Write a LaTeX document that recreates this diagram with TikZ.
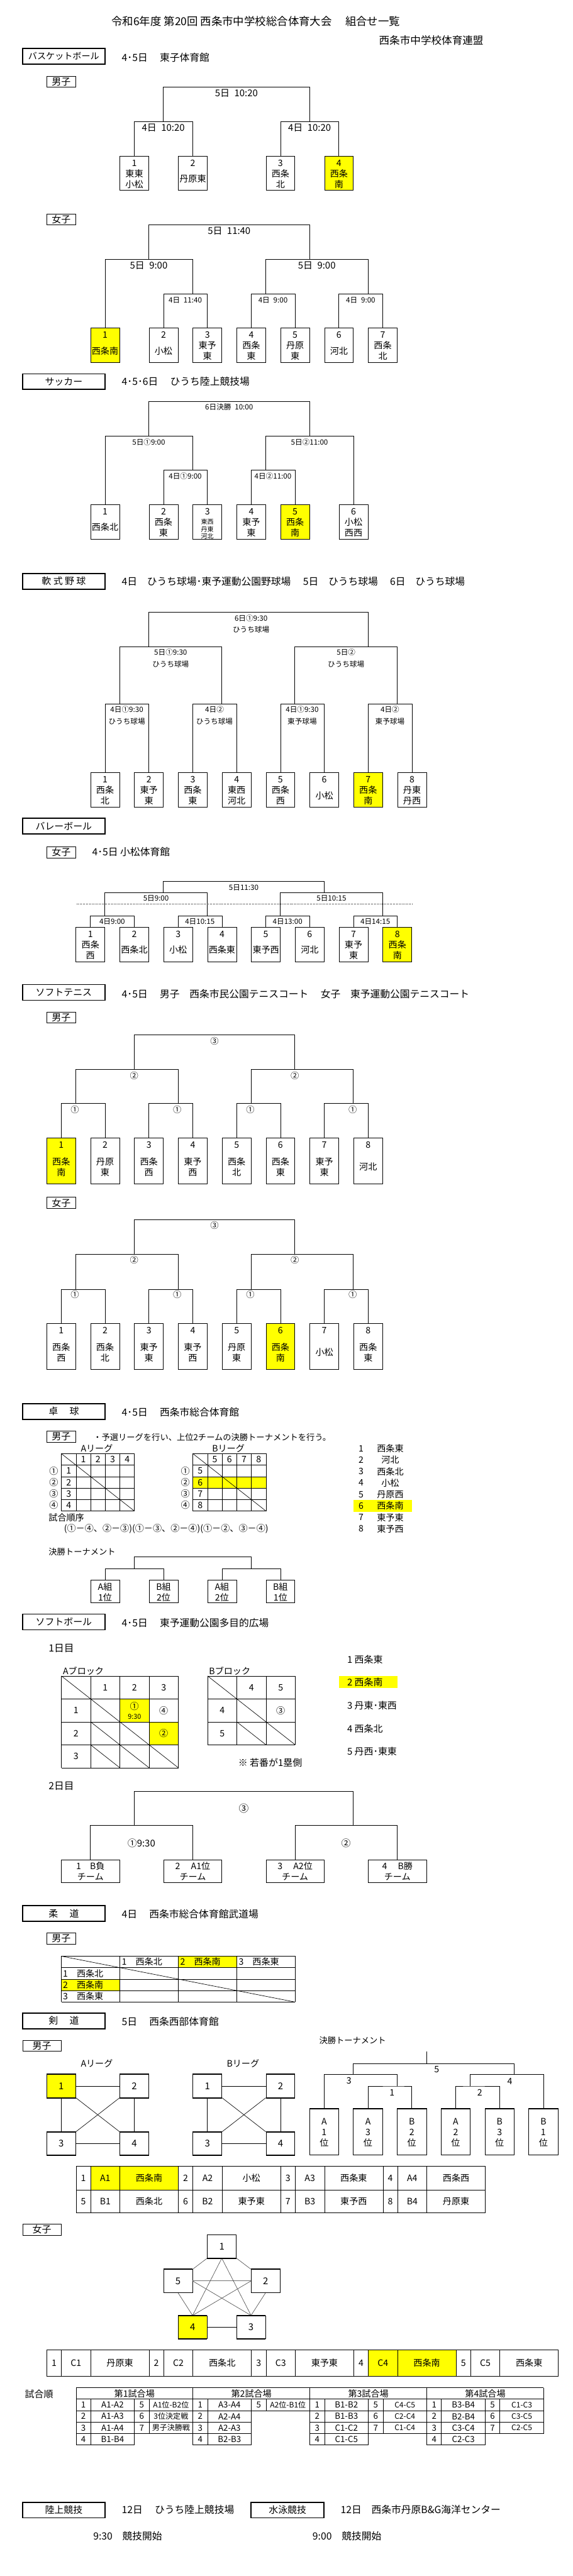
\documentclass[tikz,border=0pt]{standalone}
\usepackage{fontspec}
\setmainfont{Noto Sans CJK JP}
\newlength\xu
\setlength\xu{0.70026pt}
\newcommand\fz[2]{\fontsize{#1}{#2}\selectfont}
\newcommand\tm[8][5pt]{\node[tmb,fill=#7,minimum width=#5*0.70026pt,minimum height=#6pt,anchor=north west] (#2) at (#3,#4) {\parbox[c][#6pt][t]{#5\xu}{\centering\fz{17}{20.5}\vspace*{#1}\strut #8}};}
\newcommand\srow[7]{\node[st] (#1a) at (228+#2,#3) {#4};\node[st] (#1b) at (308+#2,#3) {#5};\node[st] (#1c) at (388+#2,#3) {#6};\node[st,font=\fz{14.5}{16}] (#1d) at (468+#2,#3) {#7};}
\newcommand\shalf[4]{\node[st] (#1a) at (228+#2,#3) {#4};}
\newcommand\shalfb[4]{\node[st] (#1b) at (308+#2,#3) {#4};}
\definecolor{hl}{RGB}{255,255,0}
\tikzset{
 tmb/.style={draw,line width=0.9pt,inner sep=0pt,outer sep=0pt},
 sec/.style={draw,line width=2.2pt,minimum width=157.6pt,minimum height=30pt,inner sep=0pt,font=\fz{18}{20}},
 lab/.style={draw,line width=0.8pt,minimum width=55.3pt,minimum height=21pt,inner sep=0pt,font=\fz{18}{20}},
 hd/.style={anchor=west,inner sep=0pt,font=\fz{19}{22}},
 bl/.style={line width=0.9pt},
 gl/.style={line width=0.8pt},
 bt/.style={inner sep=0pt,font=\fz{18}{20}},
 bs/.style={inner sep=0pt,font=\fz{14}{16}},
 b2/.style={inner sep=0pt,align=center,font=\fz{14}{22}},
 tt/.style={inner sep=0pt,font=\fz{17}{20}},
 st/.style={inner sep=0pt,font=\fz{16}{18}},
 kb/.style={draw,line width=0.9pt,minimum width=55.3pt,minimum height=44pt,inner sep=0pt,font=\fz{18}{20}},
 kt/.style={line width=2.2pt},
 pl/.style={line width=0.7pt,black!75},
}
\begin{document}
\begin{tikzpicture}[x=0.70026pt,y=-1pt]
\fill[white] (0,0) rectangle (1568,4937);
\useasboundingbox (0,0) rectangle (1568,4937);

% ===== title
\node[hd,font=\fz{21}{24}] (title) at (305,41) {令和6年度 第20回 西条市中学校総合体育大会　 組合せ一覧};
\node[hd,font=\fz{20}{24}] (org) at (1037,77) {西条市中学校体育連盟};

% ===== basketball boys
\node[sec,font=\fz{17}{20}] (s1) at (174.5,108) {バスケットボール};
\node[hd] (h1) at (333,110) {4･5日　 東子体育館};
\node[lab] (g1) at (167.5,156.5) {男子};
\tm{bb1}{328}{299}{79}{66}{white}{1\\東東\\小松}
\tm{bb2}{488}{299}{79}{66}{white}{2\\[10pt]丹原東}
\tm{bb3}{728}{299}{79}{66}{white}{3\\西条\\北}
\tm{bb4}{888}{299}{79}{66}{hl}{4\\西条\\南}
\coordinate (bbm1) at (447,233);
\coordinate (bbm2) at (847,233);
\coordinate (bbm0) at (647,167);
\draw[bl] (bb1.north) |- (bbm1) -| (bb2.north);
\draw[bl] (bb3.north) |- (bbm2) -| (bb4.north);
\draw[bl] (bbm1) |- (bbm0) -| (bbm2);
\node[bt] (bbl0) at (647,179) {5日\enspace10:20};
\node[bt] (bbl1) at (447,245) {4日\enspace10:20};
\node[bt] (bbl2) at (847,245) {4日\enspace10:20};

% ===== basketball girls
\node[lab] (g2) at (167.5,420.5) {女子};
\tm{gb1}{248}{629}{79}{66}{hl}{1\\[10pt]西条南}
\tm{gb2}{408}{629}{79}{66}{white}{2\\[10pt]小松}
\tm{gb3}{528}{629}{79}{66}{white}{3\\東予\\東}
\tm{gb4}{648}{629}{79}{66}{white}{4\\西条\\東}
\tm{gb5}{768}{629}{79}{66}{white}{5\\丹原\\東}
\tm{gb6}{888}{629}{79}{66}{white}{6\\[10pt]河北}
\tm{gb7}{1008}{629}{79}{66}{white}{7\\西条\\北}
\coordinate (gmA) at (527,563);
\coordinate (gmB) at (727,563);
\coordinate (gmC) at (1007,563);
\coordinate (gmD) at (407,497);
\coordinate (gmE) at (847,497);
\coordinate (gmF) at (627,431);
\draw[bl] (gb2.north) |- (gmA) -| (gb3.north);
\draw[bl] (gb4.north) |- (gmB) -| (gb5.north);
\draw[bl] (gb6.north) |- (gmC) -| (gb7.north);
\draw[bl] (gb1.north) |- (gmD) -| (gmA);
\draw[bl] (gmB) |- (gmE) -| (gmC);
\draw[bl] (gmD) |- (gmF) -| (gmE);
\node[bt] (gl0) at (627,443) {5日\enspace11:40};
\node[bt] (gl1) at (407,509) {5日\enspace9:00};
\node[bt] (gl2) at (867,509) {5日\enspace9:00};
\node[bs] (gl3) at (507,575) {4日\enspace11:40};
\node[bs] (gl4) at (747,575) {4日\enspace9:00};
\node[bs] (gl5) at (987,575) {4日\enspace9:00};

% ===== soccer
\node[sec] (s2) at (174.5,731.5) {サッカー};
\node[hd] (h2) at (333,731) {4･5･6日　 ひうち陸上競技場};
\tm{sb1}{248}{967}{79}{66}{white}{1\\[10pt]西条北}
\tm{sb2}{408}{967}{79}{66}{white}{2\\西条\\東}
\tm{sb3}{528}{967}{79}{66}{white}{3\par\vspace{1pt}{\fz{12}{14}東西\\丹東\\河北\par}}
\tm{sb4}{648}{967}{79}{66}{white}{4\\東予\\東}
\tm{sb5}{768}{967}{79}{66}{hl}{5\\西条\\南}
\tm{sb6}{928}{967}{79}{66}{white}{6\\小松\\西西}
\coordinate (smA) at (527,901);
\coordinate (smB) at (727,901);
\coordinate (smC) at (407,836);
\coordinate (smD) at (847,836);
\coordinate (smE) at (627,769);
\draw[bl] (sb2.north) |- (smA) -| (sb3.north);
\draw[bl] (sb4.north) |- (smB) -| (sb5.north);
\draw[bl] (sb1.north) |- (smC) -| (smA);
\draw[bl] (smB) |- (smD) -| (sb6.north);
\draw[bl] (smC) |- (smE) -| (smD);
\node[bs] (sl0) at (627,780) {6日決勝\enspace10:00};
\node[bs] (sl1) at (407,847) {5日①9:00};
\node[bs] (sl2) at (847,847) {5日②11:00};
\node[bs] (sl3) at (507,912) {4日①9:00};
\node[bs] (sl4) at (747,912) {4日②11:00};

% ===== baseball
\node[sec] (s3) at (174.5,1114) {軟 式 野 球};
\node[hd] (h3) at (333,1114) {4日　ひうち球場･東予運動公園野球場　 5日　ひうち球場　 6日　ひうち球場};
\tm{yb1}{248}{1481}{79}{66}{white}{1\\西条\\北}
\tm{yb2}{368}{1481}{79}{66}{white}{2\\東予\\東}
\tm{yb3}{488}{1481}{79}{66}{white}{3\\西条\\東}
\tm{yb4}{608}{1481}{79}{66}{white}{4\\東西\\河北}
\tm{yb5}{728}{1481}{79}{66}{white}{5\\西条\\西}
\tm{yb6}{848}{1481}{79}{66}{white}{6\\[10pt]小松}
\tm{yb7}{968}{1481}{79}{66}{hl}{7\\西条\\南}
\tm{yb8}{1088}{1481}{79}{66}{white}{8\\丹東\\丹西}
\coordinate (ymA) at (327,1349);
\coordinate (ymB) at (607,1349);
\coordinate (ymC) at (807,1349);
\coordinate (ymD) at (1087,1349);
\coordinate (ymE) at (407,1239);
\coordinate (ymF) at (1007,1239);
\coordinate (ymG) at (687,1173);
\draw[bl] (yb1.north) |- (ymA) -| (yb2.north);
\draw[bl] (yb3.north) |- (ymB) -| (yb4.north);
\draw[bl] (yb5.north) |- (ymC) -| (yb6.north);
\draw[bl] (yb7.north) |- (ymD) -| (yb8.north);
\draw[bl] (ymA) |- (ymE) -| (ymB);
\draw[bl] (ymC) |- (ymF) -| (ymD);
\draw[bl] (ymE) |- (ymG) -| (ymF);
\node[b2] (yl0) at (687,1196) {6日①9:30\\ひうち球場};
\node[b2] (yl1) at (467,1261.5) {5日①9:30\\ひうち球場};
\node[b2] (yl2) at (947,1261.5) {5日②\\ひうち球場};
\node[b2] (yl3) at (347,1371) {4日①9:30\\ひうち球場};
\node[b2] (yl4) at (587,1371) {4日②\\ひうち球場};
\node[b2] (yl5) at (827,1371) {4日①9:30\\東予球場};
\node[b2] (yl6) at (1067,1371) {4日②\\東予球場};

% ===== volleyball
\node[sec] (s4) at (174.5,1583.5) {バレーボール};
\node[lab] (g4) at (167.5,1633.5) {女子};
\node[hd] (h4) at (252,1633) {4･5日 小松体育館};
\tm{vb1}{208}{1777}{79}{66}{white}{1\\西条\\西}
\tm{vb2}{328}{1777}{79}{66}{white}{2\\[10pt]西条北}
\tm{vb3}{448}{1777}{79}{66}{white}{3\\[10pt]小松}
\tm{vb4}{568}{1777}{79}{66}{white}{4\\[10pt]西条東}
\tm{vb5}{688}{1777}{79}{66}{white}{5\\[10pt]東予西}
\tm{vb6}{808}{1777}{79}{66}{white}{6\\[10pt]河北}
\tm{vb7}{928}{1777}{79}{66}{white}{7\\東予\\東}
\tm{vb8}{1048}{1777}{79}{66}{hl}{8\\西条\\南}
\coordinate (vmA) at (287,1755);
\coordinate (vmB) at (567,1755);
\coordinate (vmC) at (767,1755);
\coordinate (vmD) at (1047,1755);
\coordinate (vmE) at (447,1711);
\coordinate (vmF) at (887,1711);
\coordinate (vmG) at (667,1689);
\draw[bl] (vb1.north) |- (vmA) -| (vb2.north);
\draw[bl] (vb3.north) |- (vmB) -| (vb4.north);
\draw[bl] (vb5.north) |- (vmC) -| (vb6.north);
\draw[bl] (vb7.north) |- (vmD) -| (vb8.north);
\draw[bl] (vmA) |- (vmE) -| (vmB);
\draw[bl] (vmC) |- (vmF) -| (vmD);
\draw[bl] (vmE) |- (vmG) -| (vmF);
\coordinate (vdl) at (210,1733);
\coordinate (vdr) at (1127,1733);
\draw[dotted,line width=1pt] (vdl) -- (vdr);
\node[bs] (vl0) at (667,1701) {5日11:30};
\node[bs] (vl1) at (427,1722) {5日9:00};
\node[bs] (vl2) at (907,1722) {5日10:15};
\node[bs] (vl3) at (307,1766) {4日9:00};
\node[bs] (vl4) at (547,1766) {4日10:15};
\node[bs] (vl5) at (787,1766) {4日13:00};
\node[bs] (vl6) at (1027,1766) {4日14:15};

% ===== soft tennis boys
\node[sec] (s5) at (174.5,1902) {ソフトテニス};
\node[hd] (h5) at (333,1905) {4･5日　 男子　西条市民公園テニスコート　 女子　東予運動公園テニスコート};
\node[lab] (g5) at (167.5,1950) {男子};
\tm{tb1}{128}{2181}{79}{88}{hl}{1\\[12pt]西条\\南}
\tm{tb2}{248}{2181}{79}{88}{white}{2\\[12pt]丹原\\東}
\tm{tb3}{368}{2181}{79}{88}{white}{3\\[12pt]西条\\西}
\tm{tb4}{488}{2181}{79}{88}{white}{4\\[12pt]東予\\西}
\tm{tb5}{608}{2181}{79}{88}{white}{5\\[12pt]西条\\北}
\tm{tb6}{728}{2181}{79}{88}{white}{6\\[12pt]西条\\東}
\tm{tb7}{848}{2181}{79}{88}{white}{7\\[12pt]東予\\東}
\tm{tb8}{968}{2181}{79}{88}{white}{8\\[22pt]河北}
\coordinate (tmA) at (207,2115);
\coordinate (tmB) at (487,2115);
\coordinate (tmC) at (687,2115);
\coordinate (tmD) at (967,2115);
\coordinate (tmE) at (367,2049);
\coordinate (tmF) at (807,2049);
\coordinate (tmG) at (587,1983);
\draw[bl] (tb1.north) |- (tmA) -| (tb2.north);
\draw[bl] (tb3.north) |- (tmB) -| (tb4.north);
\draw[bl] (tb5.north) |- (tmC) -| (tb6.north);
\draw[bl] (tb7.north) |- (tmD) -| (tb8.north);
\draw[bl] (tmA) |- (tmE) -| (tmB);
\draw[bl] (tmC) |- (tmF) -| (tmD);
\draw[bl] (tmE) |- (tmG) -| (tmF);
\node[bs,font=\fz{16}{18}] (tl0) at (587,1995) {③};
\node[bs,font=\fz{16}{18}] (tl1) at (367,2062) {②};
\node[bs,font=\fz{16}{18}] (tl2) at (807,2062) {②};
\node[bs,font=\fz{16}{18}] (tl3) at (205,2127) {①};
\node[bs,font=\fz{16}{18}] (tl4) at (485,2127) {①};
\node[bs,font=\fz{16}{18}] (tl5) at (685,2127) {①};
\node[bs,font=\fz{16}{18}] (tl6) at (965,2127) {①};

% ===== soft tennis girls
\node[lab] (g6) at (167.5,2305) {女子};
\tm{wb1}{128}{2536}{79}{88}{white}{1\\[12pt]西条\\西}
\tm{wb2}{248}{2536}{79}{88}{white}{2\\[12pt]西条\\北}
\tm{wb3}{368}{2536}{79}{88}{white}{3\\[12pt]東予\\東}
\tm{wb4}{488}{2536}{79}{88}{white}{4\\[12pt]東予\\西}
\tm{wb5}{608}{2536}{79}{88}{white}{5\\[12pt]丹原\\東}
\tm{wb6}{728}{2536}{79}{88}{hl}{6\\[12pt]西条\\南}
\tm{wb7}{848}{2536}{79}{88}{white}{7\\[22pt]小松}
\tm{wb8}{968}{2536}{79}{88}{white}{8\\[12pt]西条\\東}
\coordinate (wmA) at (207,2471);
\coordinate (wmB) at (487,2471);
\coordinate (wmC) at (687,2471);
\coordinate (wmD) at (967,2471);
\coordinate (wmE) at (367,2404);
\coordinate (wmF) at (807,2404);
\coordinate (wmG) at (587,2338);
\draw[bl] (wb1.north) |- (wmA) -| (wb2.north);
\draw[bl] (wb3.north) |- (wmB) -| (wb4.north);
\draw[bl] (wb5.north) |- (wmC) -| (wb6.north);
\draw[bl] (wb7.north) |- (wmD) -| (wb8.north);
\draw[bl] (wmA) |- (wmE) -| (wmB);
\draw[bl] (wmC) |- (wmF) -| (wmD);
\draw[bl] (wmE) |- (wmG) -| (wmF);
\node[bs,font=\fz{16}{18}] (wl0) at (587,2349) {③};
\node[bs,font=\fz{16}{18}] (wl1) at (367,2415) {②};
\node[bs,font=\fz{16}{18}] (wl2) at (807,2415) {②};
\node[bs,font=\fz{16}{18}] (wl3) at (205,2481) {①};
\node[bs,font=\fz{16}{18}] (wl4) at (485,2481) {①};
\node[bs,font=\fz{16}{18}] (wl5) at (685,2481) {①};
\node[bs,font=\fz{16}{18}] (wl6) at (965,2481) {①};

% ===== table tennis
\node[sec] (s6) at (174.5,2705) {卓　 球};
\node[hd] (h6) at (333,2706) {4･5日　 西条市総合体育館};
\node[lab] (g7) at (167.5,2753.5) {男子};
\node[hd,font=\fz{16}{18}] (n7) at (255,2755) {・予選リーグを行い、上位2チームの決勝トーナメントを行う。};
\node[tt] (tal) at (265,2776) {Aリーグ};
\node[tt] (tbl) at (625,2776) {Bリーグ};
\fill[hl] (528,2830) rectangle (728,2852);
\foreach \o in {0,360}{
  \foreach \x in {168,208,248,288,328,368} \draw[gl] (\x+\o,2786) -- (\x+\o,2896);
  \foreach \y in {2786,2808,2830,2852,2874,2896} \draw[gl] (168+\o,\y) -- (368+\o,\y);
  \draw[gl] (168+\o,2786) -- (368+\o,2896);
}
\foreach \i in {1,...,4}{
  \node[tt] (tah\i) at (188+40*\i,2797) {\i};
  \node[tt] (tar\i) at (188,2797+22*\i) {\i};
}
\foreach \n [count=\i] in {5,...,8}{
  \node[tt] (tbh\i) at (548+40*\i,2797) {\n};
  \node[tt] (tbr\i) at (548,2797+22*\i) {\n};
}
\foreach \c [count=\i] in {①,②,③,④}{
  \node[tt] (tac\i) at (147,2797+22*\i) {\c};
  \node[tt] (tbc\i) at (507,2797+22*\i) {\c};
}
\fill[hl] (967,2875) rectangle (1127,2897);
\foreach \t [count=\i] in {西条東,河北,西条北,小松,丹原西,西条南,東予東,東予西}{
  \node[tt] (ttn\i) at (988,2754+22*\i) {\i};
  \node[tt] (ttt\i) at (1068,2754+22*\i) {\t};
}
\node[hd,font=\fz{17}{20}] (jun) at (133,2909) {試合順序};
\node[hd,font=\fz{17}{20}] (juno) at (175,2930) {(①－④、②－③)(①－③、②－④)(①－②、③－④)};
\node[hd,font=\fz{16}{18}] (kst) at (133,2974) {決勝トーナメント};
\tm{qb1}{248}{3028}{79}{44}{white}{A組\\1位}
\tm{qb2}{408}{3028}{79}{44}{white}{B組\\2位}
\tm{qb3}{568}{3028}{79}{44}{white}{A組\\2位}
\tm{qb4}{728}{3028}{79}{44}{white}{B組\\1位}
\coordinate (qmA) at (367,3006);
\coordinate (qmB) at (687,3006);
\coordinate (qmC) at (527,2984);
\draw[bl] (qb1.north) |- (qmA) -| (qb2.north);
\draw[bl] (qb3.north) |- (qmB) -| (qb4.north);
\draw[bl] (qmA) |- (qmC) -| (qmB);

% ===== softball
\node[sec] (s7) at (174.5,3108.5) {ソフトボール};
\node[hd] (h7) at (333,3110) {4･5日　 東予運動公園多目的広場};
\node[hd] (d1) at (133,3159) {1日目};
\fill[hl] (928,3212) rectangle (1087,3235);
\node[hd,font=\fz{18}{20}] (sbt1) at (950,3181) {1 西条東};
\node[hd,font=\fz{18}{20}] (sbt2) at (950,3224) {2 西条南};
\node[hd,font=\fz{18}{20}] (sbt3) at (950,3269) {3 丹東･東西};
\node[hd,font=\fz{18}{20}] (sbt4) at (950,3313) {4 西条北};
\node[hd,font=\fz{18}{20}] (sbt5) at (950,3356) {5 丹西･東東};
\node[hd,font=\fz{17}{20}] (abk) at (172,3203) {Aブロック};
\node[hd,font=\fz{17}{20}] (bbk) at (572,3203) {Bブロック};
\fill[hl] (328,3256) rectangle (408,3300);
\fill[hl] (408,3300) rectangle (488,3344);
\foreach \x in {168,248,328,408,488} \draw[gl] (\x,3212) -- (\x,3388);
\foreach \y in {3212,3256,3300,3344,3388} \draw[gl] (168,\y) -- (488,\y);
\draw[gl] (168,3212) -- (248,3256) (248,3256) -- (328,3300) (248,3300) -- (328,3344) (328,3300) -- (408,3344) (248,3344) -- (328,3388) (328,3344) -- (408,3388) (408,3344) -- (488,3388);
\node[tt] (sah1) at (288,3234) {1};
\node[tt] (sah2) at (368,3234) {2};
\node[tt] (sah3) at (448,3234) {3};
\node[tt] (sar1) at (208,3278) {1};
\node[tt] (sar2) at (208,3322) {2};
\node[tt] (sar3) at (208,3366) {3};
\node[tt] (sac1) at (368,3270) {①};
\node[tt,font=\fz{13}{14}] (sac2) at (368,3290) {9:30};
\node[tt] (sac3) at (448,3278) {④};
\node[tt] (sac4) at (448,3322) {②};
\foreach \x in {568,648,728,808} \draw[gl] (\x,3212) -- (\x,3344);
\foreach \y in {3212,3256,3300,3344} \draw[gl] (568,\y) -- (808,\y);
\draw[gl] (568,3212) -- (648,3256) (648,3256) -- (728,3300) (648,3300) -- (728,3344) (728,3300) -- (808,3344);
\node[tt] (sbh1) at (688,3234) {4};
\node[tt] (sbh2) at (768,3234) {5};
\node[tt] (sbr1) at (608,3278) {4};
\node[tt] (sbr2) at (608,3322) {5};
\node[tt] (sbc1) at (768,3278) {③};
\node[hd,font=\fz{18}{20}] (note) at (652,3378) {※ 若番が1塁側};
\node[hd] (d2) at (133,3423) {2日目};
\tm{rb1}{168}{3564}{159}{44}{white}{1　B負\\チーム}
\tm{rb2}{448}{3564}{159}{44}{white}{2　 A1位\\チーム}
\tm{rb3}{728}{3564}{159}{44}{white}{3　 A2位\\チーム}
\tm{rb4}{1008}{3564}{159}{44}{white}{4　 B勝\\チーム}
\coordinate (rmA) at (367,3498);
\coordinate (rmB) at (967,3498);
\coordinate (rmC) at (667,3433);
\draw[bl] (rb1.north) |- (rmA) -| (rb2.north);
\draw[bl] (rb3.north) |- (rmB) -| (rb4.north);
\draw[bl] (rmA) |- (rmC) -| (rmB);
\node[bt,font=\fz{19}{20}] (rl0) at (667,3466) {③};
\node[bt] (rl1) at (387,3532) {①9:30};
\node[bt] (rl2) at (947,3532) {②};

% ===== judo
\node[sec] (s8) at (174.5,3667) {柔　 道};
\node[hd] (h8) at (333,3668) {4日　 西条市総合体育館武道場};
\node[lab] (g8) at (167.5,3715) {男子};
\fill[hl] (488,3749) rectangle (648,3771);
\fill[hl] (168,3793) rectangle (328,3815);
\foreach \x in {168,328,488,648,808} \draw[gl] (\x,3749) -- (\x,3837);
\foreach \y in {3749,3771,3793,3815,3837} \draw[gl] (168,\y) -- (808,\y);
\draw[gl] (168,3749) -- (808,3837);
\foreach \t [count=\i] in {西条北,西条南,西条東}{
  \node[hd,font=\fz{17}{20}] (jh\i) at (173+160*\i,3760) {\i　\t};
  \node[hd,font=\fz{17}{20}] (jr\i) at (172,3760+22*\i) {\i　\t};
}

% ===== kendo
\node[sec] (s9) at (174.5,3873) {剣　 道};
\node[hd] (h9) at (333,3874) {5日　 西条西部体育館};
\node[lab,minimum width=73.5pt] (g9) at (114.5,3921) {男子};
\node[tt,font=\fz{16}{18}] (ktt) at (965,3910) {決勝トーナメント};
\node[tt] (kal) at (265,3955) {Aリーグ};
\node[tt] (kbl) at (665,3955) {Bリーグ};
\node[kb,fill=hl] (ka1) at (167.5,3998) {1};
\node[kb] (ka2) at (367.5,3998) {2};
\node[kb] (ka3) at (167.5,4108) {3};
\node[kb] (ka4) at (367.5,4108) {4};
\node[kb] (kb1) at (567.5,3998) {1};
\node[kb] (kb2) at (767.5,3998) {2};
\node[kb] (kb3) at (567.5,4108) {3};
\node[kb] (kb4) at (767.5,4108) {4};
\foreach \p in {ka,kb}{
  \draw[gl] (\p1) -- (\p2);
  \draw[gl] (\p1) -- (\p3);
  \draw[gl] (\p2) -- (\p4);
  \draw[gl] (\p3) -- (\p4);
  \draw[gl] (\p1.south east) -- (\p4.north west);
  \draw[gl] (\p2.south west) -- (\p3.north east);
}
\tm[17pt]{kt1}{847}{4041}{80}{89}{white}{A\\1\\位}
\tm[17pt]{kt2}{967}{4041}{80}{89}{white}{A\\3\\位}
\tm[17pt]{kt3}{1087}{4041}{80}{89}{white}{B\\2\\位}
\tm[17pt]{kt4}{1207}{4041}{80}{89}{white}{A\\2\\位}
\tm[17pt]{kt5}{1327}{4041}{80}{89}{white}{B\\3\\位}
\tm[17pt]{kt6}{1447}{4041}{80}{89}{white}{B\\1\\位}
\foreach \n in {ka1,ka2,ka3,ka4,kb1,kb2,kb3,kb4,kt1,kt2,kt3,kt4,kt5,kt6}
  \draw[kt] (\n.north west) -- (\n.north east) (\n.south west) -- (\n.south east);
\coordinate (kmA) at (1087,3998);
\coordinate (kmB) at (1287,3998);
\coordinate (kmC) at (967,3976);
\coordinate (kmD) at (1407,3976);
\coordinate (kmE) at (1167,3955);
\coordinate (kroot) at (1167,3932);
\draw[bl] (kt2.north) |- (kmA) -| (kt3.north);
\draw[bl] (kt4.north) |- (kmB) -| (kt5.north);
\draw[bl] (kt1.north) |- (kmC) -| (kmA);
\draw[bl] (kmB) |- (kmD) -| (kt6.north);
\draw[bl] (kmC) |- (kmE) -| (kmD);
\draw[bl] (kmE) -- (kroot);
\node[tt] (kl5) at (1195,3966) {5};
\node[tt] (kl3) at (955,3988) {3};
\node[tt] (kl4) at (1395,3989) {4};
\node[tt] (kl1) at (1073,4011) {1};
\node[tt] (kl2) at (1313,4011) {2};
\fill[hl] (248,4152) rectangle (488,4197);
\foreach \x in {208,248,328,488,528,608,768,808,888,1048,1088,1168,1328} \draw[gl] (\x,4152) -- (\x,4241);
\foreach \y in {4152,4197,4241} \draw[gl] (208,\y) -- (1328,\y);
\foreach \o/\a/\b/\c/\d/\e/\f [count=\i] in {0/1/A1/西条南/5/B1/西条北,280/2/A2/小松/6/B2/東予東,560/3/A3/西条東/7/B3/東予西,840/4/A4/西条西/8/B4/丹原東}{
  \node[tt] (kr\i a) at (228+\o,4174.5) {\a};
  \node[tt] (kr\i b) at (288+\o,4174.5) {\b};
  \node[tt] (kr\i c) at (408+\o,4174.5) {\c};
  \node[tt] (kr\i d) at (228+\o,4219) {\d};
  \node[tt] (kr\i e) at (288+\o,4219) {\e};
  \node[tt] (kr\i f) at (408+\o,4219) {\f};
}
% kendo girls
\node[lab,minimum width=73.5pt] (g10) at (114.5,4273) {女子};
\node[kb] (p1) at (607,4305.5) {1};
\node[kb] (p5) at (487,4371.5) {5};
\node[kb] (p2) at (727,4371.5) {2};
\node[kb,fill=hl] (p4) at (527,4460) {4};
\node[kb] (p3) at (687,4460) {3};
\draw[pl] (p1.south west) -- (p5.north east);
\draw[pl] (p1.south east) -- (p2.north west);
\draw[pl,black!55,line width=1.2pt] (p5.east) -- (p2.west);
\draw[pl] (p1.south) -- (p4.north);
\draw[pl] (p1.south) -- (p3.north);
\draw[pl] (p5.south) -- (p4.north);
\draw[pl] (p2.south) -- (p3.north);
\draw[pl] (p5.east) -- (p3.north);
\draw[pl] (p2.west) -- (p4.north);
\draw[gl] (p4.east) -- (p3.west);
\foreach \n in {p1,p2,p3,p4,p5}
  \draw[kt] (\n.north west) -- (\n.north east) (\n.south west) -- (\n.south east);
\fill[hl] (1008,4504) rectangle (1248,4554);
\foreach \x in {128,168,248,408,448,528,688,728,808,968,1008,1088,1248,1288,1368,1528} \draw[gl] (\x,4504) -- (\x,4554);
\foreach \y in {4504,4554} \draw[gl] (128,\y) -- (1528,\y);
\foreach \t [count=\i] in {丹原東,西条北,東予東,西条南,西条東}{
  \node[tt] (wn\i) at (148+280*\i-280,4529) {\i};
  \node[tt] (wc\i) at (208+280*\i-280,4529) {C\i};
  \node[tt] (wt\i) at (328+280*\i-280,4529) {\t};
}
% schedule
\node[hd,font=\fz{18}{20}] (sjun) at (68,4589) {試合順};
\foreach \x/\a/\b in {208/4576/4686,248/4598/4686,368/4598/4686,408/4598/4664,528/4576/4686,568/4598/4686,688/4598/4686,728/4598/4620,848/4576/4686,888/4598/4686,1008/4598/4686,1048/4598/4664,1168/4576/4686,1208/4598/4686,1328/4598/4686,1368/4598/4664,1488/4576/4664}
  \draw[gl] (\x,\a) -- (\x,\b);
\foreach \y/\a/\b in {4576/208/1488,4598/208/1488,4620/208/1488,4642/208/688,4642/848/1488,4664/208/688,4664/848/1488,4686/208/368,4686/528/688,4686/848/1008,4686/1168/1328}
  \draw[gl] (\a,\y) -- (\b,\y);
\foreach \o/\n in {0/1,320/2,640/3,960/4}
  \node[tt] (shd\n) at (368+\o,4587) {第\n 試合場};
\srow{sa1}{0}{4609}{1}{A1-A2}{5}{A1位-B2位}
\srow{sa2}{0}{4631}{2}{A1-A3}{6}{3位決定戦}
\srow{sa3}{0}{4653}{3}{A1-A4}{7}{男子決勝戦}
\shalf{sa4}{0}{4675}{4}\shalfb{sa4}{0}{4675}{B1-B4}
\srow{sb1}{320}{4609}{1}{A3-A4}{5}{A2位-B1位}
\shalf{sb2}{320}{4631}{2}\shalfb{sb2}{320}{4631}{A2-A4}
\shalf{sb3}{320}{4653}{3}\shalfb{sb3}{320}{4653}{A2-A3}
\shalf{sb4}{320}{4675}{4}\shalfb{sb4}{320}{4675}{B2-B3}
\srow{sc1}{640}{4609}{1}{B1-B2}{5}{C4-C5}
\srow{sc2}{640}{4631}{2}{B1-B3}{6}{C2-C4}
\srow{sc3}{640}{4653}{3}{C1-C2}{7}{C1-C4}
\shalf{sc4}{640}{4675}{4}\shalfb{sc4}{640}{4675}{C1-C5}
\srow{sd1}{960}{4609}{1}{B3-B4}{5}{C1-C3}
\srow{sd2}{960}{4631}{2}{B2-B4}{6}{C3-C5}
\srow{sd3}{960}{4653}{3}{C3-C4}{7}{C2-C5}
\shalf{sd4}{960}{4675}{4}\shalfb{sd4}{960}{4675}{C2-C3}

% ===== athletics / swimming
\node[sec] (s10) at (174.5,4810.5) {陸上競技};
\node[hd] (h10) at (333,4810) {12日　 ひうち陸上競技場};
\node[sec,minimum width=140pt] (s11) at (787,4810.5) {水泳競技};
\node[hd] (h11) at (932,4810) {12日　西条市丹原B\&G海洋センター};
\node[hd] (h12) at (255,4860) {9:30　競技開始};
\node[hd] (h13) at (855,4860) {9:00　競技開始};
\end{tikzpicture}
\end{document}
